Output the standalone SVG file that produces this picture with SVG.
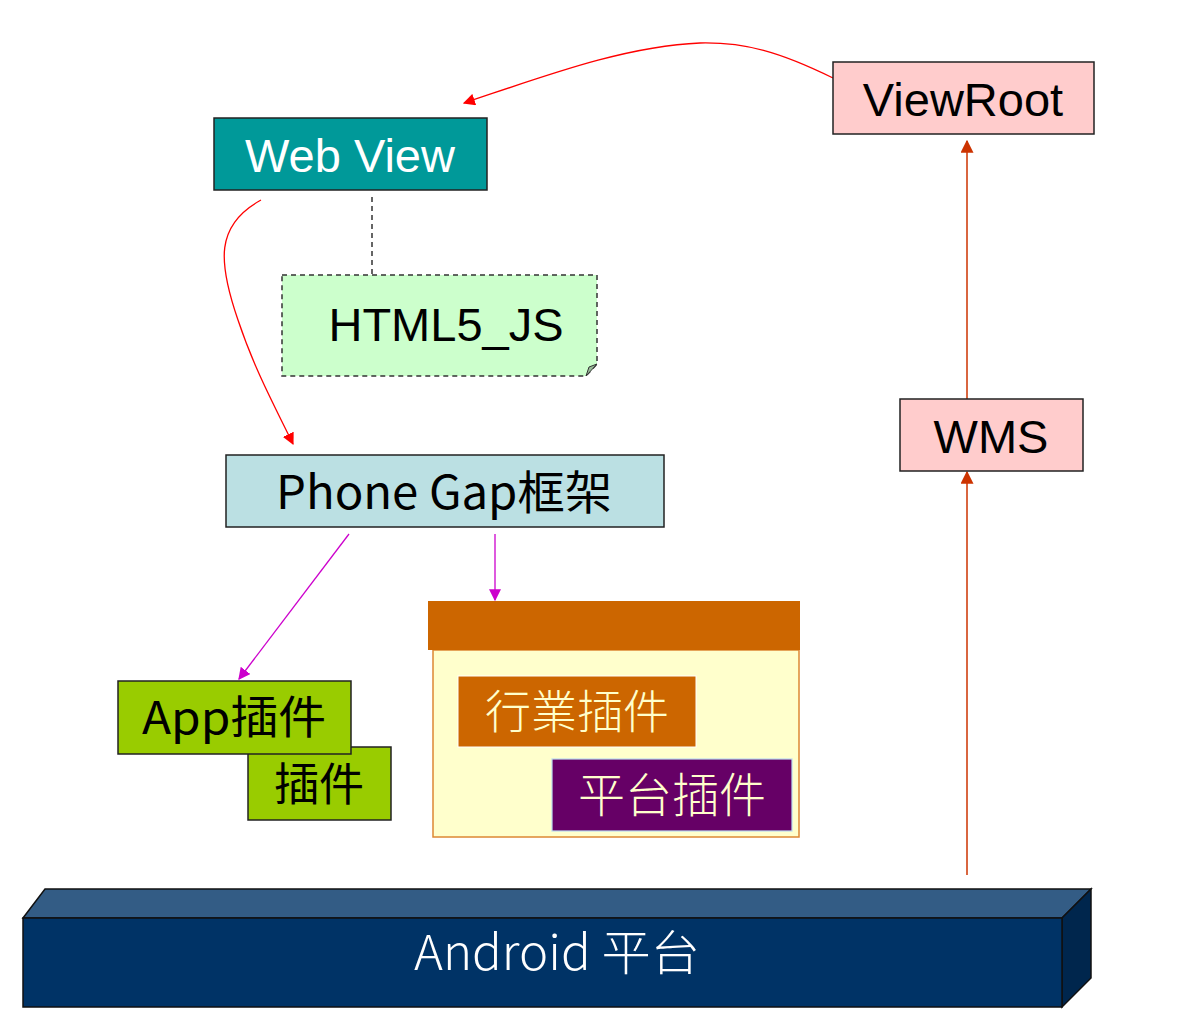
<svg xmlns="http://www.w3.org/2000/svg" width="1192" height="1032" viewBox="0 0 1192 1032">
<defs>
<style>
.lat{font-family:"Liberation Sans",Arial,sans-serif;font-size:47px;text-anchor:middle}
.cjk{font-family:"Noto Sans CJK TC","Noto Sans CJK SC",sans-serif;text-anchor:middle}
.thin{font-weight:300}
.box{stroke:#222;stroke-width:1.5}
</style>
<marker id="aRed" viewBox="0 0 10 10" refX="9" refY="5" markerWidth="12" markerHeight="12" markerUnits="userSpaceOnUse" orient="auto"><path d="M0,0L10,5L0,10Z" fill="#FF0000"/></marker>
<marker id="aMag" viewBox="0 0 10 10" refX="9" refY="5" markerWidth="12" markerHeight="12" markerUnits="userSpaceOnUse" orient="auto"><path d="M0,0L10,5L0,10Z" fill="#CC00CC"/></marker>
<marker id="aOr" viewBox="0 0 10 10" refX="9" refY="5" markerWidth="13" markerHeight="13" markerUnits="userSpaceOnUse" orient="auto"><path d="M0,0L10,5L0,10Z" fill="#CC3300"/></marker>
</defs>
<rect width="1192" height="1032" fill="#FFFFFF"/>

<g id="android">
<polygon points="23,918 45,889 1091,889 1062,918" fill="#335C85" stroke="#111" stroke-width="1.5"/>
<polygon points="1062,918 1091,889 1091,978 1062,1007" fill="#00264D" stroke="#111" stroke-width="1.5"/>
<rect x="23" y="918" width="1039" height="89" fill="#003366" stroke="#111" stroke-width="1.5"/>
<text class="cjk thin" x="557" y="970" font-size="48" fill="#FFFFFF" textLength="286" lengthAdjust="spacingAndGlyphs">Android 平台</text>
</g>

<g id="connectors" fill="none">
<path d="M833,78 C780,52 745,42 700,43 C625,46 545,76 464,103" stroke="#FF0000" stroke-width="1.3" marker-end="url(#aRed)"/>
<path d="M261,200 C215,225 218,262 238,320 C254,368 274,405 293,444" stroke="#FF0000" stroke-width="1.3" marker-end="url(#aRed)"/>
<line x1="372" y1="197" x2="372" y2="275" stroke="#333" stroke-width="1.5" stroke-dasharray="5,4"/>
<line x1="349" y1="534" x2="239" y2="679" stroke="#CC00CC" stroke-width="1.3" marker-end="url(#aMag)"/>
<line x1="495" y1="534" x2="495" y2="600" stroke="#CC00CC" stroke-width="1.3" marker-end="url(#aMag)"/>
<line x1="967" y1="875" x2="967" y2="472" stroke="#CC3300" stroke-width="1.5" marker-end="url(#aOr)"/>
<line x1="967" y1="399" x2="967" y2="141" stroke="#CC3300" stroke-width="1.5" marker-end="url(#aOr)"/>
</g>

<g id="webview">
<rect class="box" x="214" y="118" width="273" height="72" fill="#009999"/>
<text class="lat" x="350" y="172" fill="#FFFFFF">Web View</text>
</g>

<g id="html5js">
<path d="M282,275 H597 V364 L586,376 H282 Z" fill="#CCFFCC" stroke="#333" stroke-width="1.5" stroke-dasharray="5,4"/>
<path d="M586,376 L589,367 L597,364 Z" fill="#99BB99" stroke="#333" stroke-width="1"/>
<text class="lat" x="446" y="341" fill="#000000">HTML5_JS</text>
</g>

<g id="viewroot">
<rect class="box" x="833" y="62" width="261" height="72" fill="#FFCCCC"/>
<text class="lat" x="963" y="116" fill="#000000">ViewRoot</text>
</g>

<g id="wms">
<rect class="box" x="900" y="399" width="183" height="72" fill="#FFCCCC"/>
<text class="lat" x="991" y="453" fill="#000000">WMS</text>
</g>

<g id="phonegap">
<rect class="box" x="226" y="455" width="438" height="72" fill="#BBE0E3"/>
<text class="cjk" x="444" y="509" font-size="46" fill="#000000" textLength="336" lengthAdjust="spacingAndGlyphs">Phone Gap框架</text>
</g>

<g id="container">
<rect x="433" y="650" width="366" height="187" fill="#FFFFCC" stroke="#DD8833" stroke-width="1.5"/>
<rect x="428" y="601" width="372" height="49" fill="#CC6600"/>
</g>

<g id="hangye">
<rect x="458" y="676" width="238" height="71" fill="#CC6600" stroke="#FFFFFF" stroke-width="1"/>
<text class="cjk thin" x="577" y="728" font-size="46" fill="#FFFFCC">行業插件</text>
</g>

<g id="pingtai">
<rect x="552" y="759" width="240" height="72" fill="#660066" stroke="#BBDDEE" stroke-width="1.2"/>
<text class="cjk thin" x="672" y="812" font-size="47" fill="#FFFFCC">平台插件</text>
</g>

<g id="chajian">
<rect class="box" x="248" y="747" width="143" height="73" fill="#99CC00"/>
<text class="cjk" x="319" y="801" font-size="45" fill="#000000">插件</text>
</g>

<g id="app">
<rect class="box" x="118" y="681" width="233" height="73" fill="#99CC00"/>
<text class="cjk" x="234" y="734" font-size="45" fill="#000000" textLength="184" lengthAdjust="spacingAndGlyphs">App插件</text>
</g>
</svg>
